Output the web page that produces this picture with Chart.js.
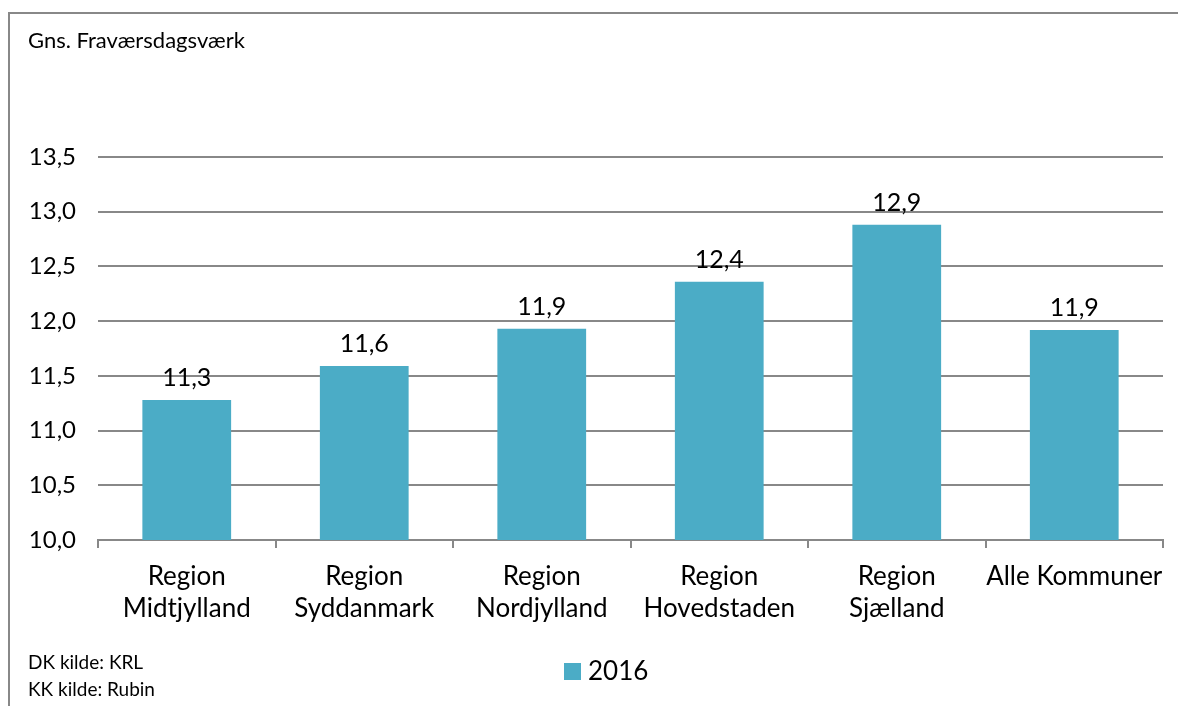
<!DOCTYPE html>
<html>
<head>
<meta charset="utf-8">
<script src="https://cdn.jsdelivr.net/npm/chart.js@4/dist/chart.umd.min.js"></script>
<style>
  html, body { margin: 0; padding: 0; background: #fff; }
  #wrap { width: 1178px; height: 706px; position: relative; }
</style>
</head>
<body>
<div id="wrap"><canvas id="myChart" width="1178" height="706"></canvas></div>
<script>
// Data
const kategorier = [
  ["Region", "Midtjylland"],
  ["Region", "Syddanmark"],
  ["Region", "Nordjylland"],
  ["Region", "Hovedstaden"],
  ["Region", "Sjælland"],
  "Alle Kommuner"
];
const vaerdier2016 = [11.28, 11.59, 11.93, 12.36, 12.88, 11.92];
const serieNavn = "2016";
const yTicks = [10.0, 10.5, 11.0, 11.5, 12.0, 12.5, 13.0, 13.5];

const titel = "Gns. Fraværsdagsværk";
const kilder = ["DK kilde: KRL", "KK kilde: Rubin"];

const FONT = "Lato, 'Open Sans', sans-serif";
const BAR_COLOR = "#4BACC6";
const GRID = "#888888";

const fmt = (v) => v.toFixed(1).replace(".", ",");

// Plugin: ramme, titel, dataetiketter, kilder og forklaring
const ekstra = {
  id: "ekstra",
  afterDraw(chart) {
    const ctx = chart.ctx;
    ctx.save();

    // ramme (venstre + top)
    ctx.strokeStyle = "#888888";
    ctx.lineWidth = 2;
    ctx.beginPath();
    ctx.moveTo(9, 706);
    ctx.lineTo(9, 13);
    ctx.lineTo(1178, 13);
    ctx.stroke();

    // titel
    ctx.fillStyle = "#000";
    ctx.font = "22px " + FONT;
    ctx.textAlign = "left";
    ctx.textBaseline = "alphabetic";
    ctx.fillText(titel, 28, 48);

    // dataetiketter
    const meta = chart.getDatasetMeta(0);
    ctx.font = "25px " + FONT;
    ctx.textAlign = "center";
    ctx.textBaseline = "alphabetic";
    meta.data.forEach((bar, i) => {
      ctx.fillText(fmt(chart.data.datasets[0].data[i]), bar.x, bar.y - 14);
    });

    // kilder
    ctx.font = "19px " + FONT;
    ctx.textAlign = "left";
    ctx.fillText(kilder[0], 28, 669);
    ctx.fillText(kilder[1], 28, 696);

    // forklaring
    const ds = chart.data.datasets[0];
    ctx.fillStyle = ds.backgroundColor;
    ctx.fillRect(564, 663, 17, 17);
    ctx.fillStyle = "#000";
    ctx.font = "26px " + FONT;
    ctx.fillText(ds.label, 588, 680);

    ctx.restore();
  }
};

const ctx = document.getElementById("myChart").getContext("2d");
new Chart(ctx, {
  type: "bar",
  data: {
    labels: kategorier,
    datasets: [{
      label: serieNavn,
      data: vaerdier2016,
      backgroundColor: BAR_COLOR,
      barPercentage: 0.5,
      categoryPercentage: 1.0
    }]
  },
  options: {
    responsive: false,
    animation: false,
    layout: { padding: { left: 18, right: 15, top: 157, bottom: 0 } },
    plugins: {
      legend: { display: false },
      tooltip: { enabled: false }
    },
    scales: {
      x: {
        afterFit: (s) => { s.height = 166; },
        grid: {
          offset: true,
          drawOnChartArea: false,
          drawTicks: true,
          tickLength: 8,
          color: GRID,
          lineWidth: 2
        },
        border: { display: true, color: GRID, width: 2 },
        ticks: {
          color: "#000",
          padding: 13,
          maxRotation: 0,
          autoSkip: false,
          font: { family: FONT, size: 26, lineHeight: 1.23 }
        }
      },
      y: {
        min: 10,
        max: 13.5,
        afterFit: (s) => { s.width = 80; },
        afterBuildTicks: (s) => { s.ticks = yTicks.map((v) => ({ value: v })); },
        grid: { color: GRID, lineWidth: 2, drawTicks: false },
        border: { display: false },
        ticks: {
          color: "#000",
          padding: 22,
          font: { family: FONT, size: 24 },
          callback: (v) => fmt(v)
        }
      }
    }
  },
  plugins: [ekstra]
});
</script>
</body>
</html>
